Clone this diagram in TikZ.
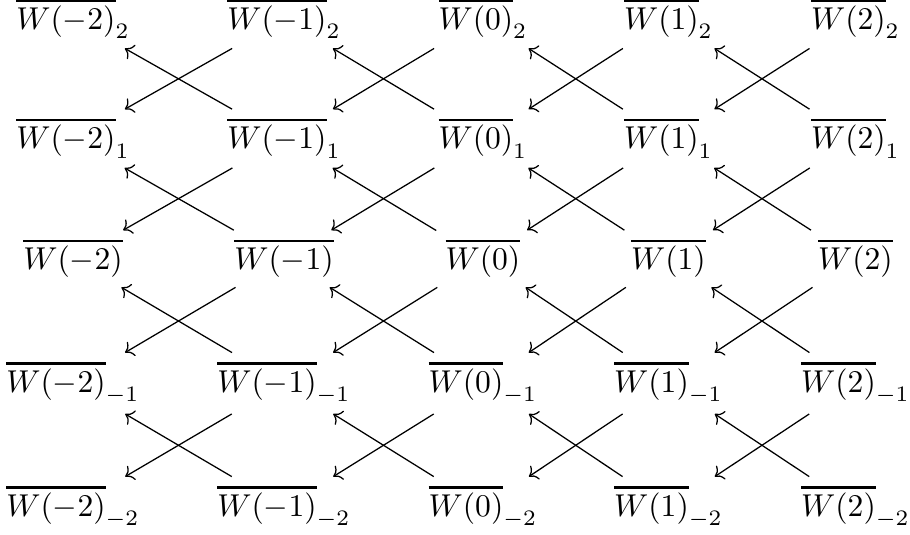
\documentclass[tikz,border=0pt]{standalone}
\usetikzlibrary{arrows.meta}
\newcommand{\thickbar}[1]{\mathord{\vbox{\hrule height 0.8pt\kern 1.3pt\hbox{$#1$}}}}
\begin{document}
\begin{tikzpicture}[x=0.3165pt,y=-0.3165pt,
  entry/.style={inner sep=3pt, outer sep=0pt, anchor=base},
  map/.style={-{Computer Modern Rightarrow}, line width=0.4pt}]
\useasboundingbox (0,0) rectangle (910,535);
\foreach \c/\x/\v in {1/73/-2,2/284/-1,3/483/0,4/668.5/1,5/855.5/2} {
  \foreach \r/\y/\s in {1/29.5/{_{2}},2/149/{_{1}},3/270/{},4/392.4/{_{-1}},5/516.4/{_{-2}}} {
    \node[entry] (n\c\r) at (\x,\y) {$\thickbar{W(\v)}\s$};
  }
}
\foreach \c [evaluate=\c as \d using int(\c+1)] in {1,...,4} {
  \foreach \r [evaluate=\r as \q using int(\r+1)] in {1,...,4} {
    \draw[map] (n\d\r) -- (n\c\q);
    \draw[map] (n\d\q) -- (n\c\r);
  }
}
\end{tikzpicture}
\end{document}
